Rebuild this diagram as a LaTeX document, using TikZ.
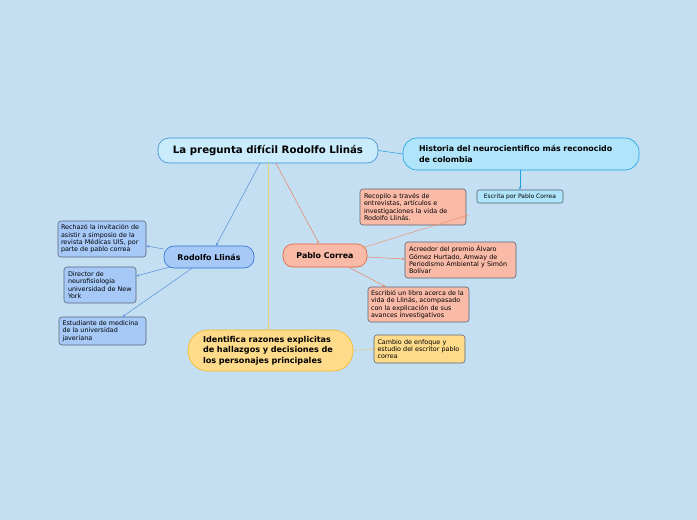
\documentclass[tikz,border=0pt]{standalone}
\usepackage{fontspec}
\setmainfont{DejaVu Sans}
\usetikzlibrary{arrows.meta,calc}
\definecolor{bg}{HTML}{C3DFF1}
\definecolor{mainfill}{HTML}{C9EBFC}
\definecolor{mainline}{HTML}{3A8FD0}
\definecolor{histfill}{HTML}{B0E4FB}
\definecolor{histline}{HTML}{1EA0E0}
\definecolor{rodfill}{HTML}{A6C9F8}
\definecolor{rodline}{HTML}{2D6FD0}
\definecolor{pabfill}{HTML}{F9BAA7}
\definecolor{pabline}{HTML}{E8603A}
\definecolor{idfill}{HTML}{FEDB8A}
\definecolor{idline}{HTML}{F6B820}
\definecolor{idconn}{HTML}{E9CD78}
\definecolor{leafline}{HTML}{5A6678}
\tikzset{
  base/.style={draw, line width=0.6pt, inner sep=0pt, anchor=center},
  big/.style={base, font=\fontsize{7.9}{10.5}\selectfont\bfseries, align=left},
  leaf/.style={base, draw=leafline, rounded corners=3pt, font=\fontsize{6.4}{7.3}\selectfont, align=left},
  conn/.style={line width=0.5pt, -{Stealth[length=3pt,width=2.4pt]}},
  plain/.style={line width=0.5pt}
}
\begin{document}
\begin{tikzpicture}[x=1pt,y=-1pt]
\fill[bg] (0,0) rectangle (697,520);
\useasboundingbox (0,0) rectangle (697,520);

% main
\node[base, draw=mainline, fill=mainfill, rounded corners=11pt, minimum width=220pt, minimum height=25pt,
  font=\fontsize{10.2}{11}\selectfont\bfseries] (main) at (268,150.5) {La pregunta difícil Rodolfo Llinás};

% historia
\node[big, draw=histline, fill=histfill, rounded corners=14pt, minimum width=236pt, minimum height=32pt,
  text width=204pt] (hist) at (521,154) {Historia del neurocientifico más reconocido\\de colombia};
\node[leaf, draw=leafline!90!black, fill=histfill, rounded corners=2pt, minimum width=86pt, minimum height=13pt,
  font=\fontsize{6}{6.5}\selectfont, align=center] (escr) at (520,196.5) {Escrita por Pablo Correa};

% Rodolfo
\node[big, draw=rodline, fill=rodfill, rounded corners=10pt, minimum width=90pt, minimum height=22pt, align=center] (rod) at (209,257) {Rodolfo Llinás};
\node[leaf, fill=rodfill, minimum width=88pt, minimum height=36pt, text width=82pt] (rech) at (102,239)
  {Rechazó la invitación de\\asistir a simposio de la\\revista Médicas UIS, por\\parte de pablo correa};
\node[leaf, fill=rodfill, minimum width=72pt, minimum height=36pt, text width=64pt] (dir) at (100,285)
  {Director de\\neurofisiologia\\universidad de New\\York};
\node[leaf, fill=rodfill, minimum width=87pt, minimum height=28pt, text width=80pt] (est) at (102.5,331)
  {Estudiante de medicina\\de la universidad\\javeriana};

% Pablo
\node[big, draw=pabline, fill=pabfill, rounded corners=10pt, minimum width=84pt, minimum height=23pt, align=center] (pab) at (325,255.5) {Pablo Correa};
\node[leaf, fill=pabfill, minimum width=106pt, minimum height=36pt, text width=98pt] (reco) at (413,207)
  {Recopilo a través de\\entrevistas, artículos e\\investigaciones la vida de\\Rodolfo Llinás.};
\node[leaf, fill=pabfill, minimum width=111pt, minimum height=36pt, text width=103pt] (acre) at (460.5,260)
  {Acreedor del premio Álvaro\\Gómez Hurtado, Amway de\\Periodismo Ambiental y Simón\\Bolívar};
\node[leaf, fill=pabfill, minimum width=101pt, minimum height=35pt, text width=95pt] (escb) at (418.5,304.5)
  {Escribió un libro acerca de la\\vida de Llinás, acompasado\\con la explicación de sus\\avances investigativos};

% Identifica
\node[big, draw=idline, fill=idfill, rounded corners=20pt, minimum width=165pt, minimum height=41pt,
  font=\fontsize{8.1}{10.4}\selectfont\bfseries, text width=135pt] (iden) at (270.5,350.5)
  {Identifica razones explicitas\\de hallazgos y decisiones de\\los personajes principales};
\node[leaf, fill=idfill, minimum width=91pt, minimum height=28pt, text width=84pt] (camb) at (419.5,349)
  {Cambio de enfoque y\\estudio del escritor pablo\\correa};

% connectors
\draw[plain, draw=histline] (main.east) -- (hist.west);
\draw[conn, draw=histline] (escr.north |- hist.south) -- (escr.north);

\draw[conn, draw=rodline!80] ([xshift=-8pt]main.south) -- ([xshift=7pt]rod.north);
\draw[conn, draw=rodline!80] ([yshift=8pt]rod.west) -- ([yshift=-7pt]rech.east);
\draw[conn, draw=rodline!80] ([xshift=6pt,yshift=-10pt]rod.west) -- ([yshift=9pt]dir.east);
\draw[conn, draw=rodline!80] ([xshift=-17pt]rod.south) -- ([xshift=20pt]est.north);

\draw[conn, draw=pabline!80] ([xshift=8pt]main.south) -- ([xshift=-6pt]pab.north);
\draw[conn, draw=pabline!70] ([xshift=-4pt,yshift=8pt]pab.east) -- ([xshift=2pt,yshift=-8pt]reco.east);
\draw[conn, draw=pabline!80] ([yshift=-1.5pt]pab.east) -- ([yshift=1pt]acre.west);
\draw[conn, draw=pabline!80] ([xshift=24pt]pab.south) -- ([xshift=-33pt]escb.north);

\draw[conn, draw=idconn] (main.south) -- (iden.north -| main.south);
\draw[conn, draw=idconn] (iden.east) -- (camb.west);
\end{tikzpicture}
\end{document}
